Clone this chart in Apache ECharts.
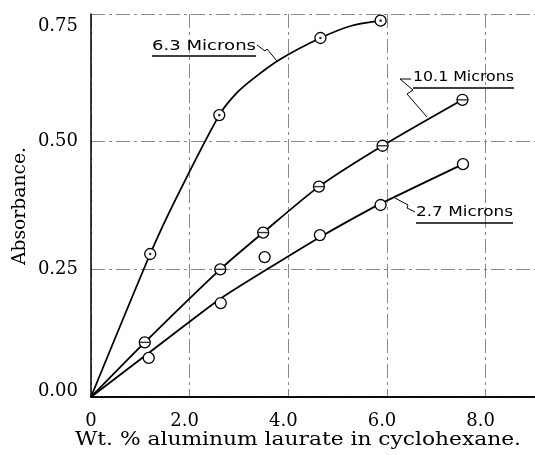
<!DOCTYPE html>
<html><head><meta charset="utf-8">
<script src="https://cdn.jsdelivr.net/npm/echarts@6/dist/echarts.min.js"></script>
<style>html,body{margin:0;padding:0;background:#fff}#c{width:535px;height:455px}</style>
</head><body><div id="c"></div>
<script>
// Axis ticks
const xTicks = [0, 2, 4, 6, 8];
const yTicks = [0, 0.25, 0.5, 0.75];

// 6.3 Microns: measured points and drawn curve
const p63X = [1.2, 2.6, 4.65, 5.87];
const p63Y = [0.28, 0.552, 0.703, 0.737];
const c63X = [0, 1.2, 1.71, 2.6, 2.94, 3.27, 3.81, 4.65, 5.28, 5.87];
const c63Y = [0, 0.28, 0.386, 0.552, 0.594, 0.622, 0.66, 0.703, 0.727, 0.737];

// 10.1 Microns
const p101X = [1.09, 2.62, 3.49, 4.62, 5.91, 7.53];
const p101Y = [0.107, 0.25, 0.322, 0.412, 0.492, 0.582];
const c101X = [0, 1.09, 2.62, 3.49, 4.62, 5.91, 7.53];
const c101Y = [0, 0.107, 0.25, 0.322, 0.412, 0.492, 0.582];

// 2.7 Microns
const p27X = [1.17, 2.63, 3.52, 4.64, 5.87, 7.54];
const p27Y = [0.0765, 0.184, 0.274, 0.317, 0.376, 0.456];
const c27X = [0, 1.6, 2.63, 3.6, 4.64, 5.62, 6.03, 7.54];
const c27Y = [0, 0.118, 0.193, 0.252, 0.313, 0.366, 0.386, 0.456];

const labels = ['6.3 Microns', '10.1 Microns', '2.7 Microns'];
const xTitle = 'Wt. % aluminum laurate in cyclohexane.';
const yTitle = 'Absorbance.';

const zip = (a, b) => a.map((v, i) => [v, b[i]]);

const ctx = document.createElement('canvas').getContext('2d');
function tw(text, font) { ctx.font = font; return ctx.measureText(text).width; }

const serif = '"DejaVu Serif", serif';
const sans = '"DejaVu Sans", sans-serif';
const grid = { left: 91, top: 14, width: 446, height: 383 };

const curveStyle = { color: '#000', width: 1.8 };
function curve(x, y) {
  return { type: 'line', data: zip(x, y), smooth: 0.25, symbol: 'none',
    lineStyle: curveStyle, z: 3, silent: true };
}
function circles(x, y) {
  return { type: 'scatter', data: zip(x, y), symbol: 'circle', symbolSize: 11,
    itemStyle: { color: '#fff', borderColor: '#000', borderWidth: 1.3, opacity: 1 }, z: 4 };
}

const gridLine = { show: true, lineStyle: { color: '#888', width: 1, type: [14, 4, 3, 4] } };

const chart = echarts.init(document.getElementById('c'), null, { renderer: 'canvas' });

function annText(txt, left, midY, width, size) {
  const font = size + 'px ' + sans;
  const s = width / tw(txt, font);
  return { type: 'text', x: left, y: midY, scaleX: s, z: 10,
    style: { text: txt, x: 0, y: 0, font: font, fill: '#000', textAlign: 'left', textVerticalAlign: 'middle' } };
}
function hline(x1, x2, y) {
  return { type: 'line', z: 10, shape: { x1: x1, y1: y, x2: x2, y2: y }, style: { stroke: '#000', lineWidth: 1.6 } };
}
function poly(pts) {
  return { type: 'polyline', z: 10, shape: { points: pts }, style: { stroke: '#000', lineWidth: 1, fill: null } };
}

const xFont = '18px ' + serif;
const xScale = 446 / tw(xTitle, xFont);
const yScale = 118 / tw(yTitle, xFont);
const tickFont = { color: '#000', fontFamily: serif, fontSize: 18 };

const option = {
  animation: false,
  backgroundColor: '#fff',
  grid: grid,
  xAxis: [{
    type: 'value', min: xTicks[0], max: 9, interval: 2,
    axisLine: { show: true, onZero: false, lineStyle: { color: '#000', width: 1.5 } },
    axisTick: { show: false },
    splitLine: gridLine,
    axisLabel: { showMaxLabel: false, margin: 15, color: '#000', fontFamily: serif, fontSize: 18,
      formatter: v => (xTicks.indexOf(v) < 0 ? '' : (v === 0 ? '0' : '{s|' + v.toFixed(1) + '}')),
      rich: { s: Object.assign({ padding: [0, 10, 0, 0] }, tickFont) } }
  }, {
    type: 'value', position: 'top', min: 0, max: 9,
    axisLine: { show: true, lineStyle: { color: '#000', width: 1.5 } },
    axisTick: { show: false }, axisLabel: { show: false }, splitLine: { show: false }
  }],
  yAxis: {
    type: 'value', min: yTicks[0], max: yTicks[yTicks.length - 1], interval: 0.25,
    axisLine: { show: true, lineStyle: { color: '#000', width: 1.5 } },
    axisTick: { show: false },
    splitLine: gridLine,
    axisLabel: { margin: 13, color: '#000', fontFamily: serif, fontSize: 18,
      formatter: v => {
        const t = v.toFixed(2);
        if (v === yTicks[yTicks.length - 1]) return '{t|' + t + '}';
        if (v === yTicks[0]) return '{b|' + t + '}';
        return t;
      },
      rich: {
        t: Object.assign({ padding: [24, 0, 0, 0] }, tickFont),
        b: Object.assign({ padding: [0, 0, 12, 0] }, tickFont)
      } }
  },
  series: [
    curve(c63X, c63Y), curve(c101X, c101Y), curve(c27X, c27Y),
    circles(p63X, p63Y), circles(p101X, p101Y), circles(p27X, p27Y),
    { type: 'scatter', data: zip(p63X, p63Y), symbol: 'circle', symbolSize: 2.6,
      itemStyle: { color: '#000' }, z: 5 },
    { type: 'scatter', data: zip(p101X, p101Y), symbol: 'rect', symbolSize: [10, 1.4],
      itemStyle: { color: '#000' }, z: 5 }
  ],
  graphic: [
    { type: 'text', x: 298, y: 440, scaleX: xScale, z: 10,
      style: { text: xTitle, x: 0, y: 0, font: xFont, fill: '#000', textAlign: 'center', textVerticalAlign: 'middle' } },
    { type: 'text', x: 20, y: 206, rotation: Math.PI / 2, scaleX: yScale, z: 10,
      style: { text: yTitle, x: 0, y: 0, font: xFont, fill: '#000', textAlign: 'center', textVerticalAlign: 'middle' } },
    annText(labels[0], 152, 46.5, 104, 13.5), hline(152, 256, 56),
    poly([[257, 45], [265, 51], [267, 49], [277, 61]]),
    annText(labels[1], 413, 77.5, 101, 13.5), hline(413, 514, 88),
    poly([[411, 79], [400, 79], [413, 90], [407, 94], [427, 117]]),
    annText(labels[2], 416, 212.5, 97, 13.5), hline(416, 513, 223),
    poly([[415, 212], [407, 208], [408, 205], [395, 198]])
  ]
};
chart.setOption(option);
</script>
</body></html>
